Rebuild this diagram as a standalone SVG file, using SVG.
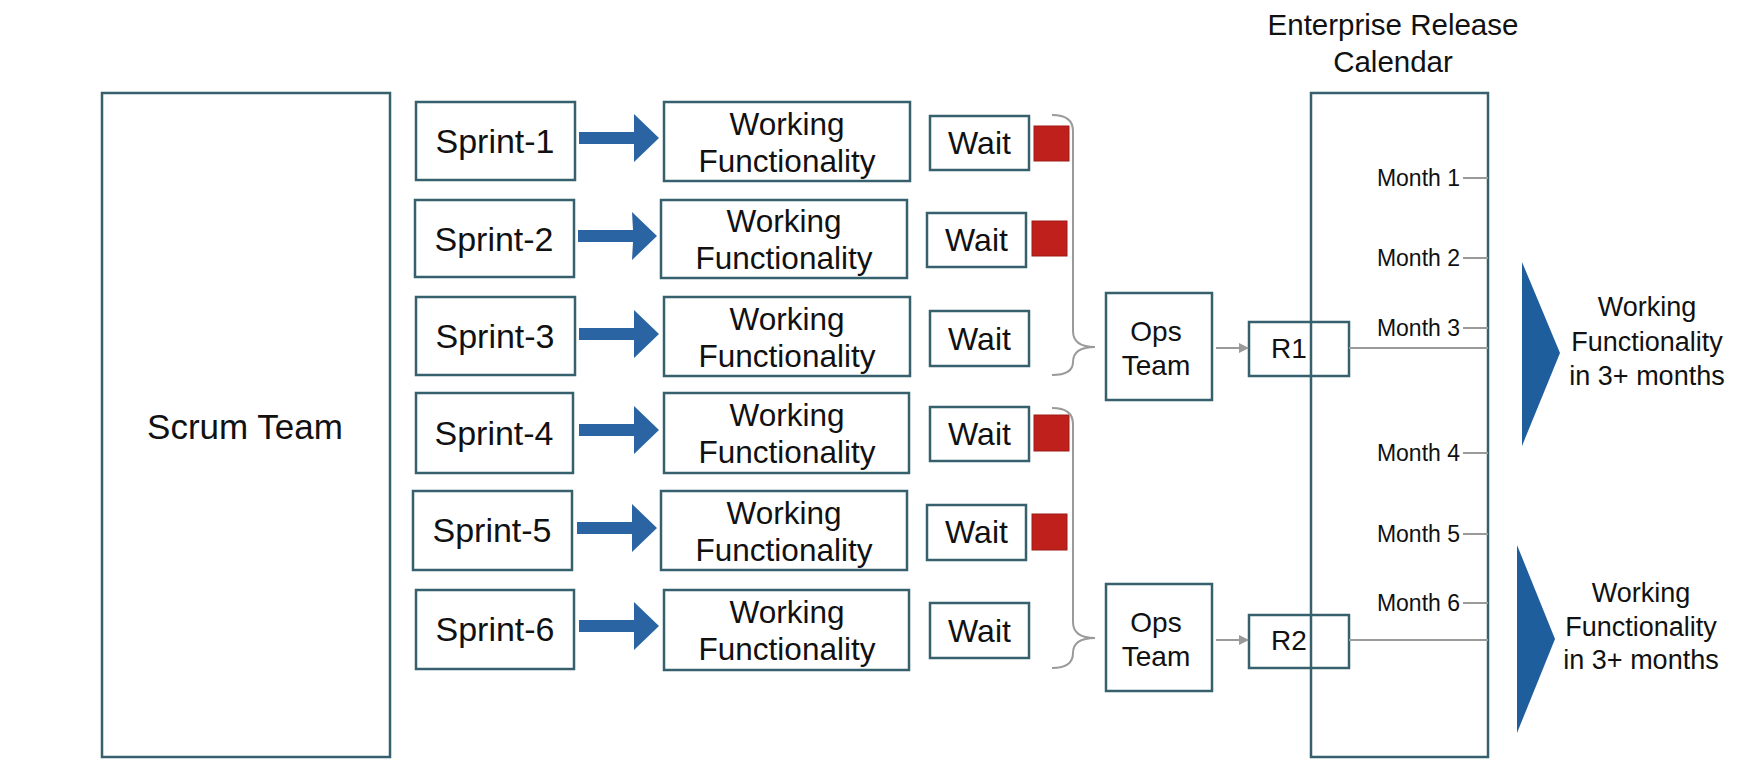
<svg xmlns="http://www.w3.org/2000/svg" width="1745" height="768" viewBox="0 0 1745 768">
<style>
.box{fill:#fff;stroke:#36606E;stroke-width:2.5}
.open{fill:none;stroke:#36606E;stroke-width:2.5}
.t{font-family:"Liberation Sans",Arial,sans-serif;fill:#111;text-anchor:middle}
.sp{font-size:34px}
.wf{font-size:31.5px}
.wt{font-size:32px}
.ops{font-size:28px}
.mo{font-family:"Liberation Sans",Arial,sans-serif;fill:#111;font-size:23px;text-anchor:end}
.rt{font-size:27px}
.arr{fill:#2A64A2}
.red{fill:#C0201C;stroke:#9E1A16;stroke-width:1}
.gray{fill:none;stroke:#9A9A9A;stroke-width:2}
.tri{fill:#1F5E9C}
</style>
<defs>
<marker id="ga" markerWidth="10" markerHeight="10" refX="9" refY="5" orient="auto" markerUnits="userSpaceOnUse">
<path d="M0,0 L10,5 L0,10 z" fill="#9A9A9A"/>
</marker>
</defs>
<rect width="1745" height="768" fill="#fff"/>

<g id="scrum-team">
<rect class="box" x="102" y="93" width="288" height="664"/>
<text class="t" x="245" y="439" style="font-size:35px">Scrum Team</text>
</g>

<g id="row1">
<rect class="box" x="416" y="102" width="159" height="78"/>
<text class="t sp" x="495" y="153">Sprint-1</text>
<rect class="box" x="664" y="102" width="246" height="79"/>
<text class="t wf" x="787" y="135">Working</text>
<text class="t wf" x="787" y="172">Functionality</text>
<rect class="box" x="930" y="116" width="99" height="54"/>
<text class="t wt" x="979.5" y="154">Wait</text>
<rect class="red" x="1034" y="126" width="35" height="35"/>
</g>

<g id="row2">
<rect class="box" x="415" y="200" width="159" height="77"/>
<text class="t sp" x="494" y="251">Sprint-2</text>
<rect class="box" x="661" y="200" width="246" height="78"/>
<text class="t wf" x="784" y="232">Working</text>
<text class="t wf" x="784" y="269">Functionality</text>
<rect class="box" x="927" y="213" width="99" height="54"/>
<text class="t wt" x="976.5" y="251">Wait</text>
<rect class="red" x="1032" y="221" width="35" height="35"/>
</g>

<g id="row3">
<rect class="box" x="416" y="297" width="159" height="78"/>
<text class="t sp" x="495" y="348">Sprint-3</text>
<rect class="box" x="664" y="297" width="246" height="79"/>
<text class="t wf" x="787" y="330">Working</text>
<text class="t wf" x="787" y="367">Functionality</text>
<rect class="box" x="930" y="311" width="99" height="55"/>
<text class="t wt" x="979.5" y="350">Wait</text>
</g>

<g id="row4">
<rect class="box" x="416" y="393" width="157" height="80"/>
<text class="t sp" x="494" y="445">Sprint-4</text>
<rect class="box" x="664" y="393" width="245" height="80"/>
<text class="t wf" x="787" y="426">Working</text>
<text class="t wf" x="787" y="463">Functionality</text>
<rect class="box" x="930" y="407" width="99" height="54"/>
<text class="t wt" x="979.5" y="445">Wait</text>
<rect class="red" x="1034" y="415" width="35" height="36"/>
</g>

<g id="row5">
<rect class="box" x="413" y="491" width="159" height="79"/>
<text class="t sp" x="492" y="542">Sprint-5</text>
<rect class="box" x="661" y="491" width="246" height="79"/>
<text class="t wf" x="784" y="524">Working</text>
<text class="t wf" x="784" y="561">Functionality</text>
<rect class="box" x="927" y="505" width="99" height="55"/>
<text class="t wt" x="976.5" y="543">Wait</text>
<rect class="red" x="1032" y="514" width="35" height="36"/>
</g>

<g id="row6">
<rect class="box" x="416" y="590" width="158" height="79"/>
<text class="t sp" x="495" y="641">Sprint-6</text>
<rect class="box" x="664" y="590" width="245" height="80"/>
<text class="t wf" x="787" y="623">Working</text>
<text class="t wf" x="787" y="660">Functionality</text>
<rect class="box" x="930" y="603" width="99" height="55"/>
<text class="t wt" x="979.5" y="642">Wait</text>
</g>

<g id="ops1">
<rect class="box" x="1106" y="293" width="106" height="107"/>
<text class="t ops" x="1156" y="341">Ops</text>
<text class="t ops" x="1156" y="375">Team</text>
</g>
<g id="ops2">
<rect class="box" x="1106" y="584" width="106" height="107"/>
<text class="t ops" x="1156" y="632">Ops</text>
<text class="t ops" x="1156" y="666">Team</text>
</g>

<g id="calendar">
<text class="t" x="1393" y="35" style="font-size:29.5px">Enterprise Release</text>
<text class="t" x="1393" y="72" style="font-size:29.5px">Calendar</text>
<rect class="open" x="1311" y="93" width="177" height="664"/>
<text class="mo" x="1460" y="186">Month 1</text>
<text class="mo" x="1460" y="266">Month 2</text>
<text class="mo" x="1460" y="336">Month 3</text>
<text class="mo" x="1460" y="461">Month 4</text>
<text class="mo" x="1460" y="542">Month 5</text>
<text class="mo" x="1460" y="611">Month 6</text>
<g class="gray">
<line x1="1463" y1="178" x2="1488" y2="178"/>
<line x1="1463" y1="258" x2="1488" y2="258"/>
<line x1="1463" y1="328" x2="1488" y2="328"/>
<line x1="1463" y1="453" x2="1488" y2="453"/>
<line x1="1463" y1="534" x2="1488" y2="534"/>
<line x1="1463" y1="603" x2="1488" y2="603"/>
</g>
</g>

<g id="r1">
<rect class="open" x="1249" y="322" width="100" height="54"/>
<text class="t ops" x="1289" y="358">R1</text>
</g>
<g id="r2">
<rect class="open" x="1249" y="615" width="100" height="53"/>
<text class="t ops" x="1289" y="650">R2</text>
</g>

<g id="outcome1">
<polygon class="tri" points="1522,262 1560,353 1522,446"/>
<text class="t rt" x="1647" y="316">Working</text>
<text class="t rt" x="1647" y="351">Functionality</text>
<text class="t rt" x="1647" y="385">in 3+ months</text>
</g>
<g id="outcome2">
<polygon class="tri" points="1517,545 1555,639 1517,733"/>
<text class="t rt" x="1641" y="602">Working</text>
<text class="t rt" x="1641" y="636">Functionality</text>
<text class="t rt" x="1641" y="669">in 3+ months</text>
</g>

<g id="connectors">
<polygon class="arr" points="579,132 634,132 634,114 659,138 634,162 634,144 579,144"/>
<polygon class="arr" points="578,230 633,230 632,212 657,236 632,260 633,242 578,242"/>
<polygon class="arr" points="579,328 634,328 634,310 659,334 634,358 634,340 579,340"/>
<polygon class="arr" points="579,424 634,424 634,406 659,430 634,454 634,436 579,436"/>
<polygon class="arr" points="577,522 632,522 632,504 657,528 632,552 632,534 577,534"/>
<polygon class="arr" points="579,620 634,620 634,602 659,626 634,650 634,632 579,632"/>
<path class="gray" d="M1052,115 Q1073,115 1073,131 L1073,331 Q1073,347 1095,347 Q1073,347 1073,362 L1073,362 Q1073,375 1052,375"/>
<path class="gray" d="M1052,408 Q1073,408 1073,424 L1073,622 Q1073,638 1095,638 Q1073,638 1073,653 Q1073,668 1052,668"/>
<line class="gray" x1="1216" y1="348" x2="1248" y2="348" marker-end="url(#ga)"/>
<line class="gray" x1="1216" y1="640" x2="1248" y2="640" marker-end="url(#ga)"/>
<line class="gray" x1="1349" y1="348" x2="1488" y2="348"/>
<line class="gray" x1="1349" y1="640" x2="1488" y2="640"/>
</g>
</svg>
